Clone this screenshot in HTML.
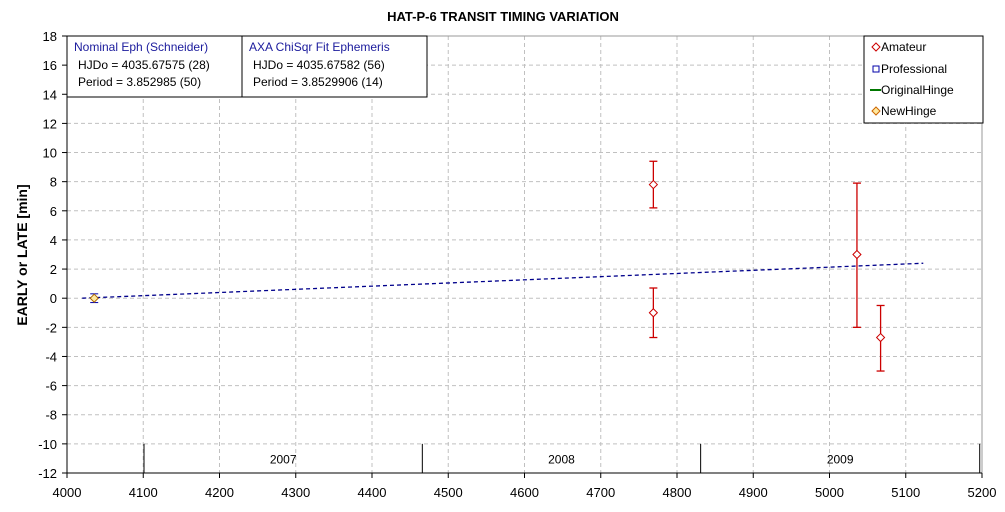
<!DOCTYPE html>
<html><head><meta charset="utf-8"><style>
body{margin:0;background:#fff;width:1005px;height:507px;overflow:hidden;font-family:"Liberation Sans",Arial,sans-serif}
</style></head><body>
<svg id="chart" width="1005" height="507" xmlns="http://www.w3.org/2000/svg" font-family="Liberation Sans, Arial, sans-serif">
<text x="503" y="21" text-anchor="middle" font-size="13" font-weight="bold">HAT-P-6 TRANSIT TIMING VARIATION</text>
<text transform="translate(27,255) rotate(-90)" text-anchor="middle" font-size="14" font-weight="bold">EARLY or LATE [min]</text>
<g id="grid"></g><g id="axes"></g><g id="marks"></g>
<g>
<rect x="67" y="36" width="360" height="61" fill="#fff" stroke="#000"/>
<line x1="242" y1="36" x2="242" y2="97" stroke="#000"/>
<text x="74" y="51" font-size="12" fill="#1a1a9c">Nominal Eph (Schneider)</text>
<text x="78" y="69" font-size="12">HJDo = 4035.67575 (28)</text>
<text x="78" y="86" font-size="12">Period = 3.852985 (50)</text>
<text x="249" y="51" font-size="12" fill="#1a1a9c">AXA ChiSqr Fit Ephemeris</text>
<text x="253" y="69" font-size="12">HJDo = 4035.67582 (56)</text>
<text x="253" y="86" font-size="12">Period = 3.8529906 (14)</text>
</g>
<g>
<rect x="864" y="36" width="119" height="87" fill="#fff" stroke="#000"/>
<g><path d="M876 43 l4 4 -4 4 -4 -4z" fill="#fff" stroke="#c00"/><text x="881" y="51" font-size="12">Amateur</text></g>
<g><rect x="873" y="66" width="6" height="6" fill="#fff" stroke="#00a"/><text x="881" y="73" font-size="12">Professional</text></g>
<g><line x1="870" y1="90" x2="881" y2="90" stroke="#070" stroke-width="2"/><text x="881" y="94" font-size="12">OriginalHinge</text></g>
<g><path d="M876 107 l4 4 -4 4 -4 -4z" fill="#ffe9a0" stroke="#c60"/><text x="881" y="115" font-size="12">NewHinge</text></g>
</g>
</svg>
<script>
const xTicks=[4000,4100,4200,4300,4400,4500,4600,4700,4800,4900,5000,5100,5200];
const yTicks=[18,16,14,12,10,8,6,4,2,0,-2,-4,-6,-8,-10,-12];
const amateurX=[4769,4769,5036,5067];
const amateurY=[7.8,-1.0,3.0,-2.7];
const amateurHi=[9.4,0.7,7.9,-0.5];
const amateurLo=[6.2,-2.7,-2.0,-5.0];
const profX=[4035.7];const profY=[0.0];const profErr=[0.3];
const fitX=[4020,5123];const fitY=[0.0,2.4];
const yearBounds=[4101,4466,4831,5197];
const yearLabels=["2007","2008","2009"];
const NS="http://www.w3.org/2000/svg";
const X=v=>67+(v-4000)*(982-67)/1200;
const Y=v=>36+(18-v)*(473-36)/30;
function mk(p,t,a){const e=document.createElementNS(NS,t);for(const k in a)e.setAttribute(k,a[k]);p.appendChild(e);return e;}
const g=document.getElementById('grid'),ax=document.getElementById('axes'),m=document.getElementById('marks');
xTicks.forEach(v=>{const l=mk(g,'line',{x1:X(v),x2:X(v),y1:36,y2:473,stroke:'#c0c0c0','stroke-dasharray':'4,3'});


mk(ax,'line',{x1:X(v),x2:X(v),y1:473,y2:478,stroke:'#000'});
const t=mk(ax,'text',{x:X(v),y:497,'text-anchor':'middle','font-size':'13'});t.textContent=v;

});
yTicks.forEach(v=>{const l=mk(g,'line',{x1:67,x2:982,y1:Y(v),y2:Y(v),stroke:'#c0c0c0','stroke-dasharray':'4,3'});


mk(ax,'line',{x1:62,x2:67,y1:Y(v),y2:Y(v),stroke:'#000'});
const t=mk(ax,'text',{x:57,y:Y(v)+5,'text-anchor':'end','font-size':'13'});t.textContent=v;

});
mk(ax,'line',{x1:982,x2:982,y1:36,y2:473,stroke:'#999'});
mk(ax,'line',{x1:67,x2:982,y1:36,y2:36,stroke:'#999'});
mk(ax,'line',{x1:67,x2:67,y1:36,y2:473,stroke:'#000'});
mk(ax,'line',{x1:67,x2:982,y1:473,y2:473,stroke:'#000'});
yearBounds.forEach(v=>{const l=mk(ax,'line',{x1:X(v),x2:X(v),y1:Y(-10),y2:473,stroke:'#000'});

});
yearLabels.forEach((s,i)=>{const t=mk(ax,'text',{x:(X(yearBounds[i])+X(yearBounds[i+1]))/2,y:Y(-11)+5,'text-anchor':'middle','font-size':'12'});t.textContent=s;

});
const fl=mk(m,'line',{x1:X(fitX[0]),y1:Y(fitY[0]),x2:X(fitX[1]),y2:Y(fitY[1]),stroke:'#00008b','stroke-dasharray':'4,3','stroke-width':'1.3'});


amateurX.forEach((v,i)=>{const x=X(v);const gg=mk(m,'g',{});


mk(gg,'line',{x1:x,x2:x,y1:Y(amateurHi[i]),y2:Y(amateurLo[i]),stroke:'#c00','stroke-width':'1.3'});
[amateurHi[i],amateurLo[i]].forEach(e=>mk(gg,'line',{x1:x-4,x2:x+4,y1:Y(e),y2:Y(e),stroke:'#c00','stroke-width':'1.3'}));
const y=Y(amateurY[i]);mk(gg,'path',{d:`M${x} ${y-4}l4 4-4 4-4-4z`,fill:'#fff',stroke:'#c00'});});
profX.forEach((v,i)=>{const x=X(v),gg=mk(m,'g',{});


mk(gg,'line',{x1:x,x2:x,y1:Y(profY[i]+profErr[i]),y2:Y(profY[i]-profErr[i]),stroke:'#00a'});
[profY[i]+profErr[i],profY[i]-profErr[i]].forEach(e=>mk(gg,'line',{x1:x-4,x2:x+4,y1:Y(e),y2:Y(e),stroke:'#00a'}));
const y=Y(profY[i]);mk(gg,'path',{d:`M${x} ${y-4}l4 4-4 4-4-4z`,fill:'#ffe9a0',stroke:'#a60'});});
</script>
</body></html>
